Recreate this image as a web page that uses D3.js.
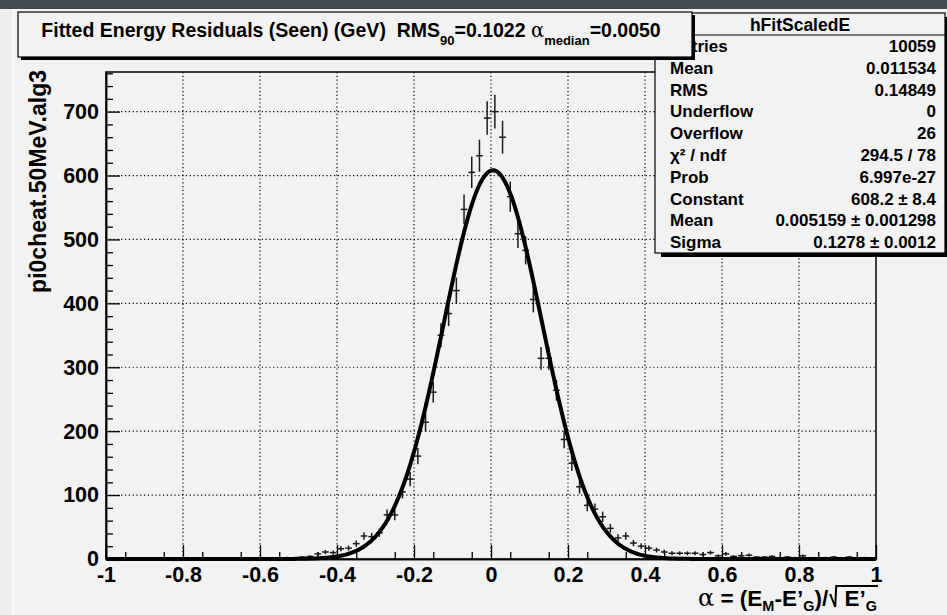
<!DOCTYPE html>
<html>
<head>
<meta charset="utf-8">
<script src="https://cdn.jsdelivr.net/npm/d3@7"></script>
<style>
  body { margin: 0; background: #f2f2f2; }
  svg text { font-family: "Liberation Sans", Arial, sans-serif; font-weight: bold; fill: #000; }
</style>
</head>
<body>
<div id="chart-area"></div>
<script>
// histogram: 100 bins from -1 to 1
var xRange = [-1, 1];
var counts = [
  0, 0, 0, 0, 0, 0, 0, 0, 0, 0, 0, 0, 0, 0, 0, 0, 0, 0, 0,
  1, 0, 1, 1, 2, 2, 3, 4, 8, 11, 10, 16, 17, 24, 36, 35, 41, 69, 69,
  105, 125, 161, 214, 261, 350, 384, 420, 547, 605, 631, 690,
  700, 660, 567, 509, 483, 406, 314, 314, 264, 187, 150, 113, 84, 78, 66, 48,
  33, 36, 25, 20, 17, 14, 11, 9, 9, 9, 9, 7, 10, 5, 8, 4, 5, 6, 3, 3, 4, 2,
  3, 2, 5, 2, 1, 2, 3, 2, 3, 1, 2, 1
];

// gaussian fit: constant, mean, sigma
var fitParams = [608.2, 0.005159, 0.1278];

var xMajor = [-1, -0.8, -0.6, -0.4, -0.2, 0, 0.2, 0.4, 0.6, 0.8, 1];
var yMajor = [0, 100, 200, 300, 400, 500, 600, 700];

var statLabels = ["Entries", "Mean", "RMS", "Underflow", "Overflow", "\u03c7\u00b2 / ndf", "Prob", "Constant", "Mean", "Sigma"];
var statValues = ["10059", "0.011534", "0.14849", "0", "26", "294.5 / 78", "6.997e-27", "608.2 \u00b1 8.4", "0.005159 \u00b1 0.001298", "0.1278 \u00b1 0.0012"];

var width = 947, height = 615;
var frame = {left: 106, right: 876, top: 72, bottom: 559};

var svg = d3.select("#chart-area").append("svg")
    .attr("width", width)
    .attr("height", height);

// window background
svg.append("rect").attr("width", width).attr("height", height).attr("fill", "#f2f2f2");
svg.append("rect").attr("width", 13).attr("y", 9).attr("height", height).attr("fill", "#eeeeee");
svg.append("line").attr("x1", 13.5).attr("x2", 13.5).attr("y1", 9).attr("y2", height)
    .attr("stroke", "#fbfbfb").attr("stroke-width", 2);
svg.append("rect").attr("width", width).attr("height", 9).attr("fill", "#424b51");

var x = d3.scaleLinear().domain(xRange).range([frame.left, frame.right]);
var y = d3.scaleLinear().domain([0, 762]).range([frame.bottom, frame.top]);

var binW = (xRange[1] - xRange[0]) / counts.length;
var bins = counts.map(function(c, i) {
  return {x0: xRange[0] + i * binW, x1: xRange[0] + (i + 1) * binW, n: c};
});

// grid
var grid = svg.append("g").attr("class", "grid");
grid.selectAll(".vgrid").data(xMajor.slice(1, -1)).enter().append("line")
    .attr("x1", d => x(d)).attr("x2", d => x(d))
    .attr("y1", frame.top).attr("y2", frame.bottom)
    .attr("stroke", "#000").attr("stroke-width", 1.2).attr("stroke-dasharray", "1.2,2.6");
grid.selectAll(".hgrid").data(yMajor.slice(1)).enter().append("line")
    .attr("x1", frame.left).attr("x2", frame.right)
    .attr("y1", d => y(d)).attr("y2", d => y(d))
    .attr("stroke", "#000").attr("stroke-width", 1.2).attr("stroke-dasharray", "1.2,2.6");

// frame
svg.append("rect")
    .attr("x", frame.left).attr("y", frame.top)
    .attr("width", frame.right - frame.left).attr("height", frame.bottom - frame.top)
    .attr("fill", "none").attr("stroke", "#000").attr("stroke-width", 1.5);

// axes
var fmt = function(d) { return (+d.toFixed(1)).toString().replace("\u2212", "-"); };

var xAxis = svg.append("g").attr("transform", "translate(0," + frame.bottom + ")")
    .call(d3.axisBottom(x).tickValues(xMajor).tickSize(-14).tickSizeOuter(0).tickPadding(8).tickFormat(fmt));
svg.append("g").attr("transform", "translate(0," + frame.bottom + ")")
    .call(d3.axisBottom(x).tickValues(d3.range(-0.95, 1, 0.1)).tickSize(-7).tickSizeOuter(0).tickFormat(""));

var yAxis = svg.append("g").attr("transform", "translate(" + frame.left + ",0)")
    .call(d3.axisLeft(y).tickValues(yMajor).tickSize(-14).tickSizeOuter(0).tickPadding(7).tickFormat(d3.format("d")));
svg.append("g").attr("transform", "translate(" + frame.left + ",0)")
    .call(d3.axisLeft(y).tickValues(d3.range(20, 761, 20).filter(v => v % 100 != 0)).tickSize(-7).tickSizeOuter(0).tickFormat(""));

svg.selectAll(".domain").attr("stroke", "#000").attr("stroke-width", 1.5);
svg.selectAll(".tick line").attr("stroke", "#000").attr("stroke-width", 1.3);
xAxis.selectAll("text").style("font-size", "21.5px");
yAxis.selectAll("text").style("font-size", "21.5px");

// data points with error bars
var pts = svg.append("g").attr("class", "points");
var filled = bins.filter(d => d.n > 0);
pts.selectAll(".ev").data(filled).enter().append("line")
    .attr("x1", d => x((d.x0 + d.x1) / 2)).attr("x2", d => x((d.x0 + d.x1) / 2))
    .attr("y1", d => y(d.n + Math.sqrt(d.n))).attr("y2", d => y(Math.max(0, d.n - Math.sqrt(d.n))))
    .attr("stroke", "#1a1a1a").attr("stroke-width", 1.5);
pts.selectAll(".eh").data(filled).enter().append("line")
    .attr("x1", d => x(d.x0) + 0.5).attr("x2", d => x(d.x1) - 0.5)
    .attr("y1", d => y(d.n)).attr("y2", d => y(d.n))
    .attr("stroke", "#1a1a1a").attr("stroke-width", 1.5);

// fit curve
var gaus = function(v) {
  var t = (v - fitParams[1]) / fitParams[2];
  return fitParams[0] * Math.exp(-0.5 * t * t);
};
var curveX = d3.range(0, 401).map(i => xRange[0] + i * (xRange[1] - xRange[0]) / 400);
svg.append("path")
    .datum(curveX)
    .attr("d", d3.line().x(d => x(d)).y(d => y(gaus(d))))
    .attr("fill", "none").attr("stroke", "#000").attr("stroke-width", 4).attr("stroke-linejoin", "round");

// y axis title
svg.append("text")
    .attr("transform", "translate(46," + 70 + ") rotate(-90)")
    .attr("text-anchor", "end")
    .style("font-size", "23px")
    .text("pi0cheat.50MeV.alg3");

// x axis title, laid out piece by piece then right aligned to the frame
var xt = svg.append("g");
var base = 606, cursor = 0;
function piece(str, size, dy, weight, family) {
  var t = xt.append("text").attr("x", cursor).attr("y", base + dy)
      .style("font-size", size + "px").style("white-space", "pre").text(str);
  if (weight) t.style("font-weight", weight);
  if (family) t.style("font-family", family);
  cursor += t.node().getComputedTextLength();
  return t;
}
piece("\u03b1", 24, 0, "normal", "DejaVu Serif");
piece("\u00a0= (E", 22.5, 0);
piece("M", 14.5, 5);
piece("-E\u2019", 22.5, 0);
piece("G", 14.5, 5);
piece(")/", 22.5, 0);
var sq = cursor + 2;
cursor += 10;
piece("\u00a0E\u2019", 22.5, 0);
piece("G", 14.5, 5);
xt.append("path")
    .attr("d", "M" + sq + "," + (base - 12) + " L" + (sq + 5) + "," + (base + 1) + " L" + (sq + 6) + "," + (base - 20) + " H" + (cursor + 1))
    .attr("fill", "none").attr("stroke", "#000").attr("stroke-width", 2);
xt.attr("transform", "translate(" + (frame.right + 1 - cursor) + ",0)");

// stats box
var sb = {left: 655, top: 13, right: 945, bottom: 253};
svg.append("rect").attr("x", sb.left + 6).attr("y", sb.top + 4)
    .attr("width", sb.right - sb.left).attr("height", sb.bottom - sb.top).attr("fill", "#000");
svg.append("rect").attr("x", sb.left).attr("y", sb.top)
    .attr("width", sb.right - sb.left).attr("height", sb.bottom - sb.top)
    .attr("fill", "#f2f2f2").attr("stroke", "#000").attr("stroke-width", 1.2);
svg.append("line").attr("x1", sb.left).attr("x2", sb.right).attr("y1", 35).attr("y2", 35)
    .attr("stroke", "#000").attr("stroke-width", 1.2);
svg.append("text").attr("x", (sb.left + sb.right) / 2).attr("y", 31)
    .attr("text-anchor", "middle").style("font-size", "17.5px").text("hFitScaledE");

var rows = svg.append("g").attr("class", "stats");
statLabels.forEach(function(lab, i) {
  var yy = 46 + i * 21.8 + 6;
  rows.append("text").attr("x", 670).attr("y", yy).style("font-size", "17px").text(lab);
  rows.append("text").attr("x", 936).attr("y", yy).attr("text-anchor", "end")
      .style("font-size", "17px").text(statValues[i]);
});

// title box
var tb = {left: 18, top: 12, right: 692, bottom: 57};
svg.append("rect").attr("x", tb.left + 3).attr("y", tb.top + 3)
    .attr("width", tb.right - tb.left).attr("height", tb.bottom - tb.top).attr("fill", "#000");
svg.append("rect").attr("x", tb.left).attr("y", tb.top)
    .attr("width", tb.right - tb.left).attr("height", tb.bottom - tb.top)
    .attr("fill", "#f2f2f2").attr("stroke", "#000").attr("stroke-width", 1.2);

var title = svg.append("text").attr("x", (tb.left + tb.right) / 2 - 4).attr("y", 37)
    .attr("text-anchor", "middle").style("font-size", "19.5px");
title.append("tspan").text("Fitted Energy Residuals (Seen) (GeV)\u00a0\u00a0RMS");
title.append("tspan").attr("dy", 8).style("font-size", "13px").text("90");
title.append("tspan").attr("dy", -8).text("=0.1022 ");
title.append("tspan").style("font-family", "DejaVu Serif").style("font-weight", "normal").text("\u03b1");
title.append("tspan").attr("dy", 8).style("font-size", "13px").text("median");
title.append("tspan").attr("dy", -8).text("=0.0050");
</script>
</body>
</html>
